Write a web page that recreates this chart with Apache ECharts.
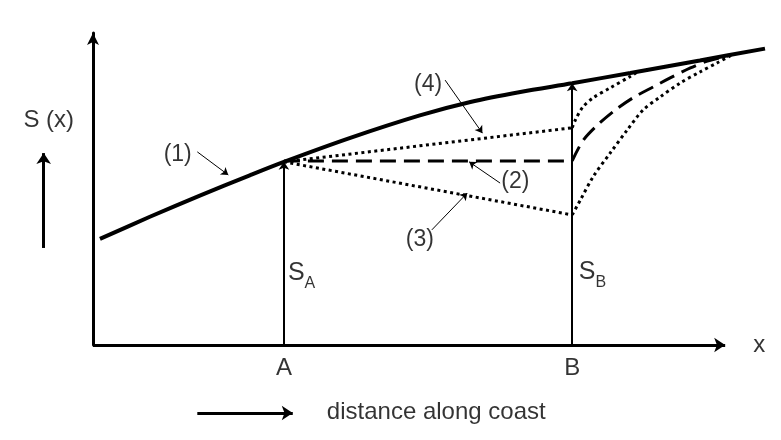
<!DOCTYPE html>
<html>
<head>
<meta charset="utf-8">
<script src="https://cdn.jsdelivr.net/npm/echarts@6/dist/echarts.min.js"></script>
<style>html,body{margin:0;padding:0;background:#fff;}#chart{width:781px;height:440px;}</style>
</head>
<body>
<div id="chart"></div>
<script>
// ---- data (abstract units: distance along coast 0..10.63, S(x) 0..10) ----
const pointA = 3.02, pointB = 7.58;
const sA = 5.87, sB = 8.39;
const xAxisEnd = 10.0;
// (1) equilibrium transport curve
const curveX = [0.11, 0.90, 1.69, 2.48, 3.02, 4.07, 5.17, 5.97, 6.76, 7.58, 8.50, 9.60, 10.63];
const curveY = [3.40, 4.11, 4.79, 5.44, 5.87, 6.64, 7.36, 7.79, 8.11, 8.39, 8.72, 9.12, 9.50];
// (2) constant transport between A and B, then recovery
const flat2X = [3.02, 7.58];
const flat2Y = [5.90, 5.90];
const rise2X = [7.58, 7.75, 7.98, 8.26, 8.54, 8.86, 9.13, 9.45, 9.72, 10.08];
const rise2Y = [5.90, 6.55, 7.05, 7.53, 7.92, 8.27, 8.56, 8.88, 9.10, 9.29];
// (3) decreasing transport, then recovery
const flat3X = [3.02, 7.58];
const flat3Y = [5.87, 4.17];
const rise3X = [7.58, 7.71, 7.91, 8.18, 8.45, 8.70, 8.97, 9.29, 9.60, 9.87, 10.11];
const rise3Y = [4.17, 4.65, 5.39, 6.15, 6.89, 7.53, 7.95, 8.40, 8.75, 9.04, 9.30];
// (4) increasing transport, then recovery
const flat4X = [3.02, 7.58];
const flat4Y = [5.87, 6.96];
const rise4X = [7.58, 7.63, 7.75, 7.91, 8.18, 8.50, 8.61];
const rise4Y = [6.96, 7.21, 7.63, 7.92, 8.24, 8.61, 8.75];
// annotation arrows [x1, y1, x2, y2]
const thinArrows = [
  [1.65, 6.19, 2.14, 5.45],   // (1)
  [5.57, 8.49, 6.16, 6.79],   // (4)
  [6.44, 5.19, 5.95, 5.87],   // (2)
  [5.36, 3.69, 5.92, 4.87]    // (3)
];
const thickArrows = [
  [-0.78, 3.11, -0.78, 6.15],  // S increasing
  [1.65, -2.18, 3.16, -2.18],  // distance along coast
  [0, 0, xAxisEnd, 0]          // x axis
];
const transportArrows = [
  [pointA, 0, pointA, sA],
  [pointB, 0, pointB, sB]
];
// text labels [x, y, text]
const labelsMain = [
  [-0.70, 7.21, 'S (x)'],
  [10.54, 0.0, 'x'],
  [5.43, -2.15, 'distance along coast']
];
const labelsCurves = [
  [1.34, 6.09, '(1)'],
  [6.68, 5.22, '(2)'],
  [5.17, 3.37, '(3)'],
  [5.30, 8.33, '(4)']
];
const labelsS = [
  [3.30, 2.30, 'S', 'A'],
  [7.90, 2.35, 'S', 'B']
];
const tickNames = ['A', 'B'];

const zip = (xs, ys) => xs.map((x, i) => [x, ys[i]]);
const FONT = '"Liberation Sans", Arial, sans-serif';

const lineSeries = (xs, ys, type, width, smooth) => ({
  type: 'line', data: zip(xs, ys), showSymbol: false, symbol: 'none', clip: false,
  smooth: smooth, silent: true, animation: false,
  lineStyle: { color: '#000', width: width, type: type, cap: 'butt' }
});
const arrowSeries = (arr, width, size) => ({
  type: 'lines', coordinateSystem: 'cartesian2d', clip: false, silent: true, animation: false,
  symbol: ['none', 'arrow'], symbolSize: size,
  lineStyle: { color: '#000', width: width, opacity: 1 },
  data: arr.map(a => ({ coords: [[a[0], a[1]], [a[2], a[3]]] }))
});

const chart = echarts.init(document.getElementById('chart'));
chart.setOption({
  backgroundColor: '#fff',
  animation: false,
  grid: { left: 93, right: 16, top: 33, bottom: 95 },
  xAxis: {
    type: 'value', min: 0, max: 10.63,
    axisLine: { show: false },
    axisTick: { show: false }, axisLabel: { show: false }, splitLine: { show: false }
  },
  yAxis: {
    type: 'value', min: 0, max: 10,
    axisLine: { show: true, symbol: ['none', 'arrow'], symbolSize: [9, 12], lineStyle: { color: '#000', width: 3 } },
    axisTick: { show: false }, axisLabel: { show: false }, splitLine: { show: false }
  },
  series: [
    lineSeries(curveX, curveY, 'solid', 4, 0.3),
    lineSeries(flat2X, flat2Y, [16, 8], 3, false),
    lineSeries(rise2X, rise2Y, [16, 8], 3, 0.3),
    lineSeries(flat3X, flat3Y, [3, 3.5], 3, false),
    lineSeries(rise3X, rise3Y, [3, 3.5], 3, 0.3),
    lineSeries(flat4X, flat4Y, [3, 3.5], 3, false),
    lineSeries(rise4X, rise4Y, [3, 3.5], 3, 0.3),
    arrowSeries(thinArrows, 1, 7),
    arrowSeries(thickArrows, 3, 11),
    arrowSeries(transportArrows, 2, 8),
    {
      type: 'scatter', symbolSize: 0, clip: false, silent: true,
      data: [[pointA, 0, tickNames[0]], [pointB, 0, tickNames[1]]],
      label: { show: true, position: 'bottom', distance: 11, color: '#000', fontSize: 24, fontFamily: FONT,
        formatter: p => p.value[2] }
    },
    {
      type: 'scatter', symbolSize: 0, clip: false, silent: true,
      data: labelsMain,
      label: { show: true, position: 'inside', color: '#000', fontSize: 24, fontFamily: FONT,
        formatter: p => p.value[2] }
    },
    {
      type: 'scatter', symbolSize: 0, clip: false, silent: true,
      data: labelsCurves,
      label: { show: true, position: 'inside', color: '#000', fontSize: 23, fontFamily: FONT,
        formatter: p => p.value[2] }
    },
    {
      type: 'scatter', symbolSize: 0, clip: false, silent: true,
      data: labelsS,
      label: { show: true, position: 'inside', color: '#000', fontFamily: FONT,
        formatter: p => '{s|' + p.value[2] + '}{sub|' + p.value[3] + '}',
        rich: { s: { fontSize: 25, fontFamily: FONT, color: '#000', verticalAlign: 'bottom' },
                sub: { fontSize: 16, fontFamily: FONT, color: '#000', verticalAlign: 'bottom', padding: [0, 0, -6, 0] } } }
    }
  ]
});
</script>
</body>
</html>
